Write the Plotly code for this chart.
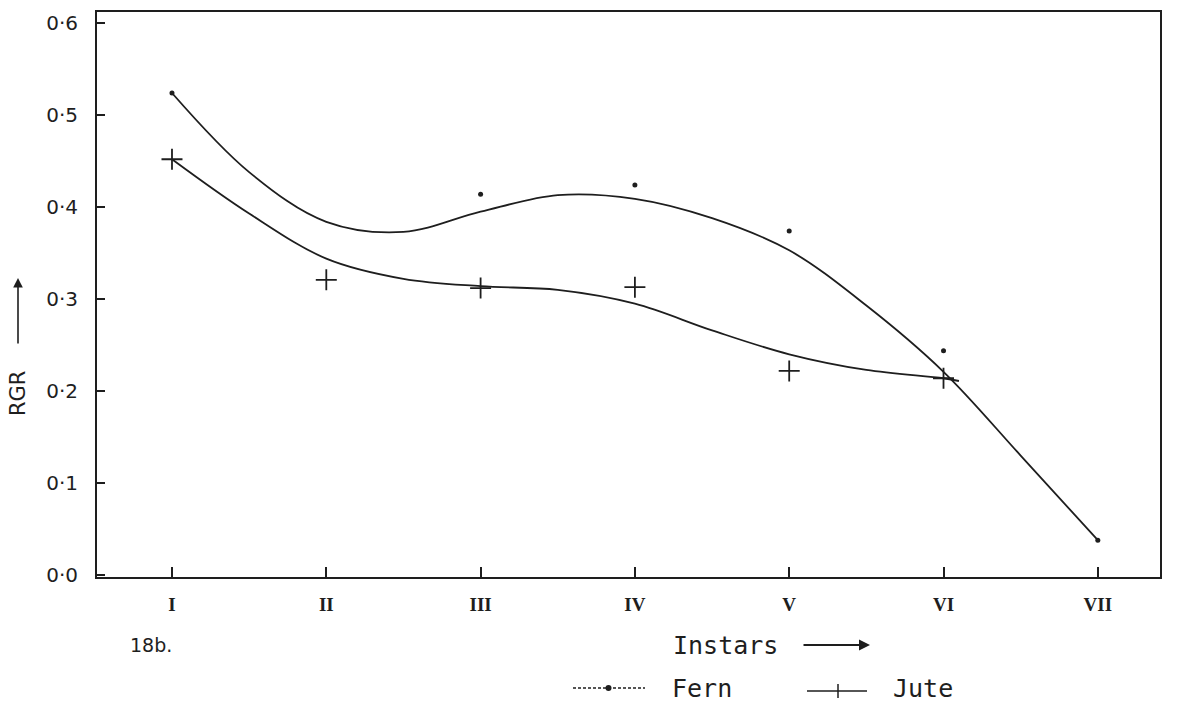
import plotly.graph_objects as go

# ---- data ----
instars = ["I", "II", "III", "IV", "V", "VI", "VII"]
instar_pos = [0, 1, 2, 3, 4, 5, 6]

fern_obs = [0.524, None, 0.414, 0.424, 0.374, 0.244, 0.038]
jute_obs = [0.452, 0.321, 0.312, 0.313, 0.222, 0.214, None]

# fitted (hand-drawn) curves, read at half-instar steps
fern_curve_pos = [0, 0.5, 1, 1.5, 2, 2.5, 3, 3.5, 4, 4.5, 5, 5.5, 6]
fern_curve = [0.524, 0.438, 0.384, 0.373, 0.395, 0.413, 0.409, 0.388, 0.353, 0.293, 0.221, 0.130, 0.038]

jute_curve_pos = [0, 0.5, 1, 1.5, 2, 2.5, 3, 3.5, 4, 4.5, 5, 5.1]
jute_curve = [0.452, 0.393, 0.344, 0.322, 0.314, 0.310, 0.295, 0.266, 0.240, 0.223, 0.214, 0.211]

y_ticks = [0.0, 0.1, 0.2, 0.3, 0.4, 0.5, 0.6]
y_tick_text = ["0·0", "0·1", "0·2", "0·3", "0·4", "0·5", "0·6"]

series_names = ["Fern", "Jute"]

INK = "#1e1e1e"
SANS = "DejaVu Sans"
MONO = "DejaVu Sans Mono"
SERIF = "Liberation Serif"

# plot-area geometry (pixels) used to place decorations
L, R, T, B = 97, 1160, 12, 577
W, H = R - L, B - T


def px(xp):
    return (xp - L) / W


def py(yp):
    return (B - yp) / H


fig = go.Figure()

# curves
fig.add_trace(go.Scatter(x=fern_curve_pos, y=fern_curve, mode="lines", name=series_names[0],
                         line=dict(color=INK, width=1.8, shape="spline", smoothing=1.0),
                         hoverinfo="skip"))
fig.add_trace(go.Scatter(x=jute_curve_pos, y=jute_curve, mode="lines", name=series_names[1],
                         line=dict(color=INK, width=1.8, shape="spline", smoothing=1.0),
                         hoverinfo="skip"))
# observed points
fig.add_trace(go.Scatter(x=instar_pos, y=fern_obs, mode="markers", name=series_names[0],
                         marker=dict(symbol="circle", size=5, color=INK)))
fig.add_trace(go.Scatter(x=instar_pos, y=jute_obs, mode="markers", name=series_names[1],
                         marker=dict(symbol="cross-thin", size=15, line=dict(color=INK, width=1.8))))

fig.update_layout(
    width=1180, height=706,
    margin=dict(l=L, r=1180 - R, t=T, b=706 - B, autoexpand=False),
    paper_bgcolor="white", plot_bgcolor="white",
    font=dict(family=SANS, color=INK),
    showlegend=False,
)

fig.update_xaxes(
    range=[-0.486, 6.403], tickmode="array", tickvals=instar_pos, ticktext=instars,
    ticks="inside", ticklen=10, tickwidth=1.5, tickcolor=INK,
    showline=True, linecolor=INK, linewidth=2, mirror=True,
    showgrid=False, zeroline=False,
    tickfont=dict(family=SERIF, size=19, color=INK, weight="bold"),
    ticklabelstandoff=9,
)
fig.update_yaxes(
    range=[-0.002, 0.612], tickmode="array", tickvals=y_ticks, ticktext=y_tick_text,
    ticks="inside", ticklen=8, tickwidth=1.5, tickcolor=INK,
    showline=True, linecolor=INK, linewidth=2, mirror=True,
    showgrid=False, zeroline=False,
    tickfont=dict(family=SANS, size=20, color=INK),
    ticklabelstandoff=13,
)

# y-axis title with upward arrow
fig.add_annotation(text="RGR", xref="paper", yref="paper", x=px(18), y=py(394),
                   xanchor="center", yanchor="middle",
                   textangle=-90, showarrow=False, font=dict(family=SANS, size=21, color=INK))
fig.add_annotation(x=px(18), y=py(278), xref="paper", yref="paper", ax=0, ay=67,
                   showarrow=True, arrowhead=2, arrowsize=1.2, arrowwidth=1.6, arrowcolor=INK, text="")

# x-axis title with rightward arrow
fig.add_annotation(text="Instars", xref="paper", yref="paper", x=px(725), y=py(645),
                   xanchor="center", yanchor="middle",
                   showarrow=False, font=dict(family=MONO, size=25, color=INK))
fig.add_annotation(x=px(870), y=py(645), xref="paper", yref="paper", ax=-68, ay=0,
                   showarrow=True, arrowhead=2, arrowsize=1.0, arrowwidth=2.2, arrowcolor=INK, text="")

# figure label
fig.add_annotation(text="18b.", xref="paper", yref="paper", x=px(128), y=py(645),
                   xanchor="left", yanchor="middle",
                   showarrow=False, font=dict(family=SANS, size=19, color=INK))

# hand-drawn style legend
leg_y = py(688)
fig.add_shape(type="line", xref="paper", yref="paper", x0=px(573), x1=px(645), y0=leg_y, y1=leg_y,
              line=dict(color=INK, width=1.3, dash="3px,2px"))
fig.add_shape(type="circle", xref="paper", yref="paper",
              x0=px(605.5), x1=px(611.5), y0=py(691), y1=py(685),
              fillcolor=INK, line=dict(color=INK, width=0))
fig.add_annotation(text=series_names[0], xref="paper", yref="paper", x=px(670), y=leg_y,
                   xanchor="left", yanchor="middle",
                   showarrow=False, font=dict(family=MONO, size=25, color=INK))

fig.add_shape(type="line", xref="paper", yref="paper", x0=px(807), x1=px(867), y0=py(691), y1=py(691),
              line=dict(color=INK, width=1.5))
fig.add_shape(type="line", xref="paper", yref="paper", x0=px(838), x1=px(838), y0=py(684), y1=py(698),
              line=dict(color=INK, width=1.5))
fig.add_annotation(text=series_names[1], xref="paper", yref="paper", x=px(891), y=leg_y,
                   xanchor="left", yanchor="middle",
                   showarrow=False, font=dict(family=MONO, size=25, color=INK))

fig.write_html("out.html")
